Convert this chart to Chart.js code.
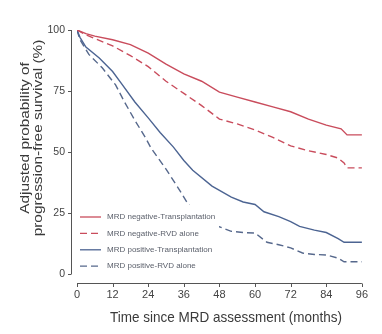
<!DOCTYPE html>
<html><head><meta charset="utf-8">
<script src="https://cdn.jsdelivr.net/npm/chart.js@4"></script>
<style>html,body{margin:0;padding:0;background:#fff}canvas{display:block}</style>
</head><body>
<canvas id="c" width="382" height="334"></canvas>
<script>
// ---- data ----
const xTicks = [0, 12, 24, 36, 48, 60, 72, 84, 96];
const yTicks = [0, 25, 50, 75, 100];
const xTitle = 'Time since MRD assessment (months)';
const yTitle = ['Adjusted probability of', 'progression-free survival (%)'];
const seriesLabels = ['MRD negative-Transplantation', 'MRD negative-RVD alone', 'MRD positive-Transplantation', 'MRD positive-RVD alone'];

const negTxMonths = [0, 3, 6, 12, 18, 24, 30, 36, 42, 48, 54, 60, 66, 72, 78, 84, 89, 91, 96];
const negTxSurv   = [100, 98.5, 97.5, 96, 94, 90.5, 86, 82, 79, 74.5, 72.5, 70.5, 68.5, 66.5, 63.5, 61, 59.5, 57, 57];

const negRvdMonths = [0, 3, 6, 12, 18, 24, 30, 36, 42, 48, 54, 60, 66, 72, 78, 84, 88, 90, 91, 96];
const negRvdSurv   = [100, 98, 96.5, 93.5, 89.5, 85, 79, 74, 69, 63.5, 61.5, 59, 56, 52.5, 50.5, 49, 47.5, 45.5, 43.5, 43.5];

const posTxMonths = [0, 1, 3, 7.5, 12, 15, 19.5, 24, 28, 32.5, 36, 39, 45.5, 52, 56, 60, 63, 68, 72, 75, 80, 84, 88, 90, 96];
const posTxSurv   = [100, 97, 93, 88.5, 83, 78, 70.5, 64, 58, 52, 46.5, 42.5, 36, 31.5, 29.5, 28.5, 25.5, 23.5, 21.5, 19.5, 18, 17, 14.5, 13, 13];

const posRvdMonths = [0, 1, 4, 8.5, 13, 16, 19.5, 23, 25, 30, 34.5, 37.5, 42, 46.5, 52, 56, 60, 64, 68, 72, 76, 80, 84, 88, 90, 96];
const posRvdSurv   = [100, 96, 90, 84.5, 77.5, 70.5, 63, 56, 51.5, 43, 34.5, 28.5, 24, 20, 17.5, 17, 16.8, 13, 12, 10.7, 8.6, 8, 7.8, 6.5, 5, 5];

const seriesColors = ['#c94c5c', '#c94c5c', '#4c6492', '#56688c'];
const seriesDash = [[], [7, 4], [], [7, 4]];

const pts = (xs, ys) => xs.map((x, i) => ({x: x, y: ys[i]}));
const seriesData = [
  pts(negTxMonths, negTxSurv),
  pts(negRvdMonths, negRvdSurv),
  pts(posTxMonths, posTxSurv),
  pts(posRvdMonths, posRvdSurv)
];

const FONT = '"Liberation Sans", Arial, sans-serif';

const decor = {
  id: 'decor',
  afterDatasetsDraw(chart) {
    const ctx = chart.ctx;
    const xs = chart.scales.x, ys = chart.scales.y;
    const ca = chart.chartArea;
    ctx.save();
    // legend box (white, covers lines)
    ctx.fillStyle = '#ffffff';
    ctx.fillRect(73, 205, 146, 71);
    seriesLabels.forEach((lab, i) => {
      const yy = 217 + i * 16.4;
      ctx.beginPath();
      ctx.strokeStyle = seriesColors[i];
      ctx.lineWidth = 1.3;
      ctx.setLineDash(seriesDash[i]);
      ctx.moveTo(80, yy); ctx.lineTo(101, yy);
      ctx.stroke();
      ctx.setLineDash([]);
      ctx.fillStyle = '#5a5f6a';
      ctx.font = '8px ' + FONT;
      ctx.textAlign = 'left';
      ctx.textBaseline = 'middle';
      ctx.fillText(lab, 107, yy);
    });
    // axes
    ctx.strokeStyle = '#555';
    ctx.lineWidth = 1;
    const axX = ca.left - 6;
    ctx.beginPath();
    ctx.moveTo(axX + 0.5, ys.getPixelForValue(100));
    ctx.lineTo(axX + 0.5, ys.getPixelForValue(0));
    yTicks.forEach(v => {
      const py = Math.round(ys.getPixelForValue(v)) + 0.5;
      ctx.moveTo(axX - 3, py); ctx.lineTo(axX + 0.5, py);
    });
    const axY = ca.bottom + 9;
    ctx.moveTo(xs.getPixelForValue(0), axY + 0.5);
    ctx.lineTo(xs.getPixelForValue(96), axY + 0.5);
    xTicks.forEach(v => {
      const px = Math.round(xs.getPixelForValue(v)) + 0.5;
      ctx.moveTo(px, axY + 0.5); ctx.lineTo(px, axY + 4);
    });
    ctx.stroke();
    // titles
    ctx.fillStyle = '#3a3a3a';
    ctx.font = '13.5px ' + FONT;
    ctx.textAlign = 'center';
    ctx.textBaseline = 'middle';
    ctx.save();
    ctx.translate(226, 318);
    ctx.scale(1, 1.12);
    ctx.fillText(xTitle, 0, 0);
    ctx.restore();
    [25, 38].forEach((cx, i) => {
      ctx.save();
      ctx.translate(cx, 138);
      ctx.rotate(-Math.PI / 2);
      ctx.scale(1.14, 1);
      ctx.fillText(yTitle[i], 0, 0);
      ctx.restore();
    });
    ctx.restore();
  }
};

new Chart(document.getElementById('c'), {
  type: 'line',
  data: {
    datasets: seriesData.map((d, i) => ({
      label: seriesLabels[i],
      data: d,
      borderColor: seriesColors[i],
      borderDash: seriesDash[i],
      borderWidth: 1.4,
      pointRadius: 0,
      tension: 0,
      fill: false
    }))
  },
  options: {
    responsive: false,
    animation: false,
    devicePixelRatio: 1,
    layout: {padding: {left: 0, right: 11, top: 30, bottom: 0}},
    plugins: {legend: {display: false}, tooltip: {enabled: false}},
    scales: {
      x: {
        type: 'linear', min: 0, max: 96,
        afterFit: s => { s.height = 60; },
        afterBuildTicks: s => { s.ticks = xTicks.map(v => ({value: v})); },
        grid: {display: false, drawTicks: false},
        border: {display: false},
        ticks: {padding: 14, color: '#444', font: {size: 11, family: FONT}, maxRotation: 0, autoSkip: false}
      },
      y: {
        type: 'linear', min: 0, max: 100,
        afterFit: s => { s.width = 77; },
        afterBuildTicks: s => { s.ticks = yTicks.map(v => ({value: v})); },
        grid: {display: false, drawTicks: false},
        border: {display: false},
        ticks: {padding: 12, color: '#444', font: {size: 10.5, family: FONT}, autoSkip: false}
      }
    }
  },
  plugins: [decor]
});
</script>
</body></html>
